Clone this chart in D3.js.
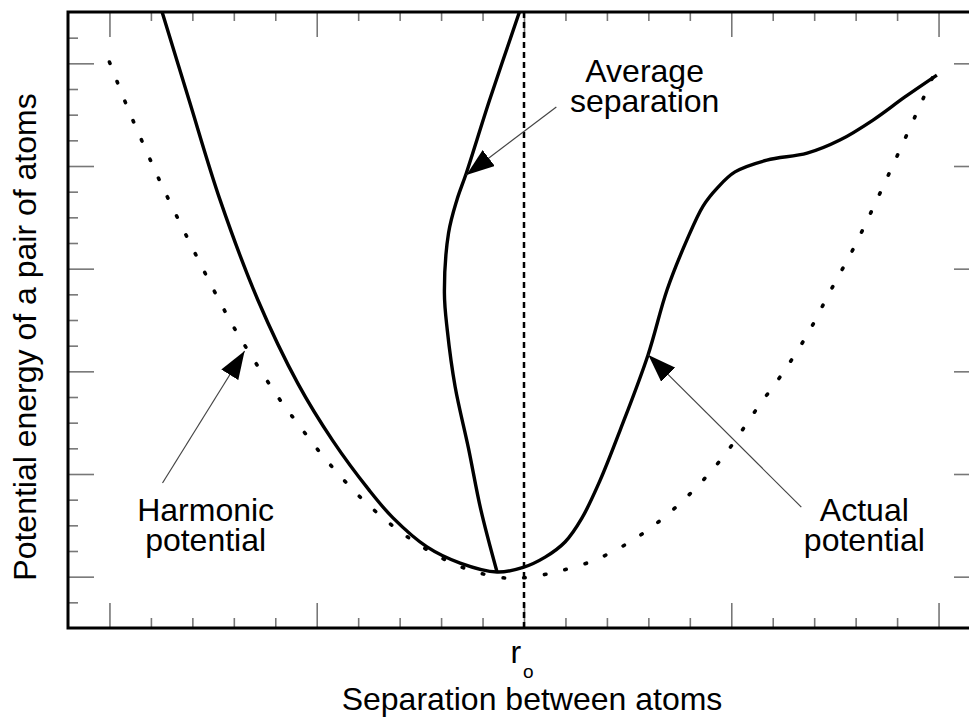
<!DOCTYPE html>
<html>
<head>
<meta charset="utf-8">
<script src="https://cdn.jsdelivr.net/npm/d3@7/dist/d3.min.js"></script>
<style>
  body { margin: 0; background: #fff; }
  svg { display: block; font-family: "Liberation Sans", Arial, Helvetica, sans-serif; }
</style>
</head>
<body>
<div id="chart"></div>
<script>
// x in tick units (r_o = 11), y in tick units
const harmonicPts = [
  [1.00, 22.05], [1.43, 20.30], [1.87, 18.66], [2.33, 17.02], [3.85, 12.15],
  [4.47, 10.48], [5.10, 8.92], [5.51, 8.03], [6.31, 6.39], [7.25, 4.79],
  [8.26, 3.47], [9.32, 2.49], [10.34, 1.99], [10.94, 1.95], [11.76, 2.18],
  [12.77, 2.69], [13.81, 3.62], [14.80, 4.91], [15.76, 6.58], [16.68, 8.69],
  [17.21, 9.86], [17.84, 11.45], [18.39, 13.13], [18.93, 14.73], [19.43, 16.40],
  [19.89, 18.00], [20.35, 19.63], [20.86, 21.46]
];

const actualPts = [
  [2.27, 24.00], [2.92, 20.57], [3.67, 16.67], [4.58, 12.78], [5.55, 9.51],
  [6.39, 7.29], [7.26, 5.38], [7.84, 4.29], [8.66, 3.16], [9.46, 2.53],
  [10.35, 2.18], [10.98, 2.36], [11.51, 2.76], [11.99, 3.35], [12.40, 4.29],
  [12.83, 5.73], [13.32, 7.71], [13.99, 10.63], [14.45, 13.17], [14.93, 15.12],
  [15.32, 16.44], [15.66, 17.14], [16.09, 17.77], [16.86, 18.23], [17.83, 18.50],
  [18.62, 19.01], [19.42, 19.79], [20.19, 20.69], [20.96, 21.54]
];

const averagePts = [
  [10.35, 2.18], [9.96, 4.60], [9.66, 7.01], [9.34, 9.39], [9.15, 11.60],
  [9.08, 13.05], [9.18, 15.39], [9.38, 16.67], [9.61, 17.73], [10.17, 20.57],
  [10.89, 24.00]
];

const r0 = 11;
const xMinorTicks = d3.range(1, 22);
const xMajorTicks = [1, 6, 11, 16, 21];
const yMinorTicks = d3.range(1, 24);
const yMajorTicks = [2, 6, 10, 14, 18, 22];

const arrows = [
  { from: [11.78, 20.30], to: [9.61, 17.65] },
  { from: [2.28, 5.65], to: [4.26, 10.79] },
  { from: [17.69, 4.71], to: [14.00, 10.64] }
];

const labels = [
  { lines: ["Average", "separation"], at: [13.91, 21.27] },
  { lines: ["Harmonic", "potential"], at: [3.32, 4.17] },
  { lines: ["Actual", "potential"], at: [19.21, 4.17] }
];

const width = 969, height = 719;
const margin = { left: 68, top: 12 };
const plotW = 912, plotH = 616;

const svg = d3.select("#chart").append("svg")
  .attr("width", width)
  .attr("height", height);

const x = d3.scaleLinear().domain([0, 22]).range([margin.left, margin.left + plotW]);
const y = d3.scaleLinear().domain([0, 24]).range([margin.top + plotH, margin.top]);

const defs = svg.append("defs");
defs.append("clipPath").attr("id", "plot-clip")
  .append("rect")
  .attr("x", x(0)).attr("y", y(24))
  .attr("width", plotW).attr("height", plotH);

defs.append("marker")
  .attr("id", "head")
  .attr("markerUnits", "userSpaceOnUse")
  .attr("viewBox", "0 -10 28 20")
  .attr("refX", 28).attr("refY", 0)
  .attr("markerWidth", 28).attr("markerHeight", 20)
  .attr("orient", "auto")
  .append("path")
  .attr("d", "M0,-10L28,0L0,10Z")
  .attr("fill", "#000");

// ticks (drawn inward on all four sides)
function tickAxis(axis, vals, size, transform) {
  const g = svg.append("g")
    .attr("transform", transform)
    .call(axis.tickValues(vals).tickSize(size).tickFormat(""));
  g.select(".domain").remove();
  g.selectAll(".tick line").attr("stroke", "#777").attr("stroke-width", 1.6);
}

const xMinorOnly = xMinorTicks.filter(d => !xMajorTicks.includes(d));
const yMinorOnly = yMinorTicks.filter(d => !yMajorTicks.includes(d));

tickAxis(d3.axisBottom(x), xMinorOnly, -10, `translate(0,${y(0)})`);
tickAxis(d3.axisBottom(x), xMajorTicks, -25, `translate(0,${y(0)})`);
tickAxis(d3.axisTop(x), xMinorOnly, -9, `translate(0,${y(24)})`);
tickAxis(d3.axisTop(x), xMajorTicks, -25, `translate(0,${y(24)})`);
tickAxis(d3.axisLeft(y), yMinorOnly, -10, `translate(${x(0)},0)`);
tickAxis(d3.axisLeft(y), yMajorTicks, -26, `translate(${x(0)},0)`);
tickAxis(d3.axisRight(y), yMinorOnly, -10, `translate(${x(22)},0)`);
tickAxis(d3.axisRight(y), yMajorTicks, -26, `translate(${x(22)},0)`);

const plot = svg.append("g").attr("clip-path", "url(#plot-clip)");

// r_o reference line
plot.append("line")
  .attr("x1", x(r0)).attr("x2", x(r0))
  .attr("y1", y(0)).attr("y2", y(24))
  .attr("stroke", "#000")
  .attr("stroke-width", 2.5)
  .attr("stroke-dasharray", "6,4");

const line = d3.line()
  .x(d => x(d[0]))
  .y(d => y(d[1]))
  .curve(d3.curveCatmullRom.alpha(0.5));

plot.append("path")
  .datum(harmonicPts)
  .attr("d", line)
  .attr("fill", "none")
  .attr("stroke", "#000")
  .attr("stroke-width", 3.6)
  .attr("stroke-linecap", "round")
  .attr("stroke-dasharray", "1.5,19.5");

plot.append("path")
  .datum(actualPts)
  .attr("d", line)
  .attr("fill", "none")
  .attr("stroke", "#000")
  .attr("stroke-width", 3.4);

plot.append("path")
  .datum(averagePts)
  .attr("d", line)
  .attr("fill", "none")
  .attr("stroke", "#000")
  .attr("stroke-width", 3.4);

// frame
svg.append("rect")
  .attr("x", x(0)).attr("y", y(24))
  .attr("width", plotW).attr("height", plotH)
  .attr("fill", "none")
  .attr("stroke", "#000")
  .attr("stroke-width", 3);

// annotation arrows
svg.selectAll(".arrow")
  .data(arrows)
  .enter()
  .append("line")
  .attr("class", "arrow")
  .attr("x1", d => x(d.from[0])).attr("y1", d => y(d.from[1]))
  .attr("x2", d => x(d.to[0])).attr("y2", d => y(d.to[1]))
  .attr("stroke", "#444")
  .attr("stroke-width", 1.2)
  .attr("marker-end", "url(#head)");

// annotation labels
labels.forEach(l => {
  const t = svg.append("text")
    .attr("x", x(l.at[0]))
    .attr("y", y(l.at[1]))
    .attr("text-anchor", "middle")
    .attr("font-size", 32)
    .attr("fill", "#000");
  l.lines.forEach((s, i) => {
    t.append("tspan")
      .attr("x", x(l.at[0]))
      .attr("dy", i === 0 ? 0 : 30)
      .text(s);
  });
});

// r_o tick label
const r0Label = svg.append("text")
  .attr("x", x(r0) - 2)
  .attr("y", 663)
  .attr("text-anchor", "middle")
  .attr("font-size", 32)
  .text("r");
r0Label.append("tspan")
  .attr("dx", 2)
  .attr("dy", 15)
  .attr("font-size", 19)
  .text("o");

// axis titles
svg.append("text")
  .attr("x", 532)
  .attr("y", 710)
  .attr("text-anchor", "middle")
  .attr("font-size", 32)
  .text("Separation between atoms");

svg.append("text")
  .attr("transform", `translate(36,337) rotate(-90)`)
  .attr("text-anchor", "middle")
  .attr("font-size", 32)
  .text("Potential energy of a pair of atoms");
</script>
</body>
</html>
